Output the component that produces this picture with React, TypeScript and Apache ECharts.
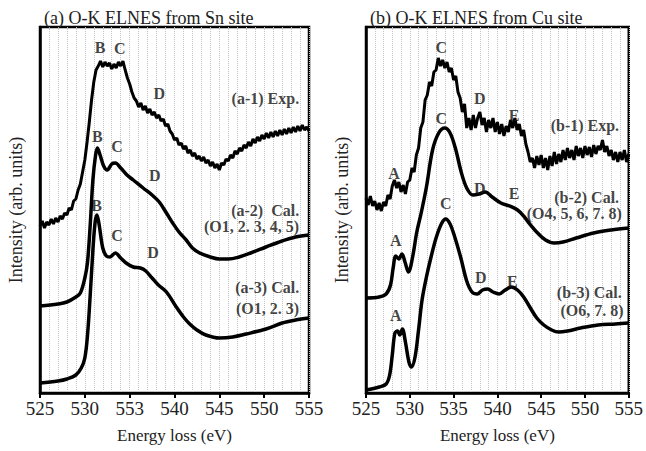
import React, { useEffect, useRef } from "react";
import * as echarts from "echarts";

// ---------- axis ----------
const X_MIN = 525;
const X_MAX = 555;
const TICKS_A = ["525", "530", "553", "540", "545", "550", "555"];
const TICKS_B = ["525", "530", "535", "540", "545", "550", "555"];

// ---------- experimental spectra (sampled every 0.25 eV from 525 eV) ----------
const EXP_START = 525;
const EXP_STEP = 0.25;
const expA1 = [
  167, 172, 165, 171, 168, 174, 169, 175, 171, 177, 174, 180, 178, 185, 183, 192, 194, 203, 209, 221,
  233, 251, 271, 293, 311, 323, 327, 332, 326, 331, 327, 330, 324, 329, 325, 331, 327, 332, 323, 315,
  309, 301, 295, 292, 286, 290, 283, 287, 280, 284, 278, 281, 275, 278, 272, 274, 267, 269, 262, 259,
  253, 255, 248, 250, 244, 247, 240, 243, 237, 240, 234, 237, 232, 236, 230, 233, 227, 231, 225, 229,
  223, 230, 228, 234, 232, 238, 235, 242, 239, 245, 242, 248, 245, 251, 247, 254, 250, 256, 252, 258,
  254, 260, 255, 261, 256, 262, 257, 263, 258, 264, 259, 265, 260, 266, 261, 267, 262, 268, 263, 266,
  262,
];
const expB1 = [
  195, 188, 197, 187, 192, 183, 190, 182, 191, 187, 198, 194, 207, 213, 205, 211, 201, 208, 199, 211,
  213, 225, 221, 238, 245, 265, 271, 293, 298, 311, 307, 321, 323, 335, 327, 333, 325, 331, 321, 325,
  313, 317, 301, 295, 281, 289, 265, 275, 263, 278, 265, 275, 281, 268, 275, 261, 273, 265, 275, 261,
  271, 259, 269, 257, 267, 261, 273, 265, 275, 263, 269, 257, 263, 249, 241, 231, 235, 225, 237, 228,
  238, 225, 235, 223, 237, 227, 241, 229, 239, 231, 243, 233, 245, 235, 243, 233, 247, 237, 245, 235,
  247, 238, 246, 236, 248, 239, 247, 243, 253, 241, 247, 237, 243, 233, 241, 231, 241, 233, 243, 231,
  239,
];

// ---------- calculated spectra ----------
const calA2E = [525, 527, 528, 529, 529.5, 530, 530.3, 530.6, 530.9, 531.2, 531.4, 531.7, 532.1, 532.5, 533, 533.4, 534, 534.7, 535.4, 536.5, 537.5, 538.3, 539.1, 539.8, 540.5, 541.3, 542, 542.8, 544, 545, 546, 547.2, 548.5, 550.2, 552, 553.5, 555];
const calA2I = [87, 89, 91, 96, 100, 115, 131, 168, 213, 238, 245, 238, 227, 223, 229, 230, 225, 218, 213, 205, 198, 191, 180, 170, 161, 153, 145, 140, 136, 134, 134, 136, 140, 146, 152, 156, 158];

const calA3E = [525, 527, 528, 529, 529.6, 530, 530.3, 530.6, 530.9, 531.15, 531.35, 531.6, 532, 532.4, 532.8, 533.4, 534, 534.6, 535.4, 536.2, 536.8, 537.5, 538.2, 539.1, 540.2, 541, 541.7, 542.5, 543.5, 545, 546.5, 548, 550.2, 552, 553.5, 555];
const calA3I = [10, 12, 14, 18, 25, 35, 58, 98, 143, 171, 178, 168, 145, 137, 136, 140, 135, 130, 126, 125, 122, 115, 108, 101, 86, 76, 69, 63, 58, 55, 56, 59, 64, 70, 73, 75];

const calB2E = [525, 526.5, 527.3, 527.8, 528.1, 528.4, 528.75, 529.1, 529.45, 529.85, 530.3, 530.8, 531.3, 531.9, 532.6, 533.3, 534, 534.6, 535.2, 535.9, 536.5, 537.2, 537.9, 538.6, 539.4, 540.4, 541.4, 542.3, 543, 543.7, 544.6, 545.5, 546.5, 547.5, 549, 551, 553, 555];
const calB2I = [95, 96, 99, 108, 125, 137, 134, 139, 131, 121, 135, 161, 180, 206, 243, 260, 265, 260, 245, 220, 205, 198, 199, 201, 196, 190, 187, 183, 177, 169, 160, 153, 150, 151, 155, 160, 163, 165];

const calB3E = [525, 526.5, 527.3, 527.7, 528, 528.3, 528.6, 528.85, 529.15, 529.5, 529.9, 530.2, 530.6, 531, 531.4, 531.9, 532.4, 533, 533.6, 534.1, 534.6, 535.1, 535.8, 536.5, 537.1, 537.7, 538.3, 538.9, 539.5, 540.2, 540.9, 541.6, 542.3, 543, 543.7, 544.5, 545.3, 546.2, 547, 548, 549.5, 551.5, 553.5, 555];
const calB3I = [3, 6, 9, 18, 38, 60, 62, 58, 64, 51, 31, 26, 36, 63, 93, 116, 135, 155, 169, 174, 169, 157, 136, 112, 101, 99, 103, 104, 101, 99, 103, 106, 103, 96, 86, 75, 68, 63, 61, 62, 65, 68, 69, 70];

// ---------- annotations: [text, energy, intensity, align] ----------
const notesA: [string, number, number, string][] = [
  ["B", 531.7, 346, "center"], ["C", 533.9, 345, "center"], ["D", 538.3, 300, "center"],
  ["(a-1) Exp.", 553.9, 295, "right"],
  ["B", 531.4, 257, "center"], ["C", 533.6, 247, "center"], ["D", 537.8, 218, "center"],
  ["(a-2)  Cal.", 553.9, 183, "right"], ["(O1, 2. 3, 4, 5)", 553.9, 167, "right"],
  ["B", 531.3, 188, "center"], ["C", 533.6, 158, "center"], ["D", 537.6, 141, "center"],
  ["(a-3) Cal.", 553.9, 106, "right"], ["(O1, 2. 3)", 553.9, 85, "right"],
];
const notesB: [string, number, number, string][] = [
  ["A", 528.2, 220, "center"], ["C", 533.6, 346, "center"], ["D", 538.0, 295, "center"], ["E", 541.9, 278, "center"],
  ["(b-1) Exp.", 553.9, 268, "right"],
  ["A", 528.4, 153, "center"], ["C", 533.6, 275, "center"], ["D", 538.0, 205, "center"], ["E", 541.9, 200, "center"],
  ["(b-2) Cal.", 553.9, 196, "right"], ["(O4, 5, 6, 7. 8)", 554.2, 180, "right"],
  ["C", 534.1, 190, "center"],
  ["A", 528.4, 78, "center"], ["D", 538.1, 116, "center"], ["E", 541.7, 112, "center"],
  ["(b-3) Cal.", 554.2, 101, "right"], ["(O6, 7. 8)", 554.4, 83, "right"],
];

const SERIF = "Liberation Serif";

function expPairs(vals: number[]) {
  return vals.map((v, i) => [EXP_START + i * EXP_STEP, v]);
}
function pairs(es: number[], is: number[]) {
  return es.map((e, i) => [e, is[i]]);
}

export default function App() {
  const ref = useRef<HTMLDivElement>(null);
  useEffect(() => {
    if (!ref.current) return;
    const chart = echarts.init(ref.current, null, { renderer: "svg" });

    const xAxisBase = (gridIndex: number, labels: string[]) => ({
      type: "value",
      gridIndex,
      min: X_MIN,
      max: X_MAX,
      interval: 5,
      name: "Energy loss (eV)",
      nameLocation: "middle",
      nameGap: 34,
      nameTextStyle: { fontFamily: SERIF, fontSize: 17, color: "#222" },
      axisLine: { show: true, onZero: false, lineStyle: { color: "#000", width: 2.5 } },
      axisTick: { show: true, length: 5, lineStyle: { color: "#000", width: 2 } },
      axisLabel: {
        fontFamily: SERIF,
        fontSize: 19,
        color: "#222",
        margin: 6,
        formatter: (v: number) => labels[Math.round((v - X_MIN) / 5)] ?? "",
      },
      splitLine: { show: true, lineStyle: { color: "#c4c4c4", type: "dotted", width: 1 } },
      minorTick: { show: false, splitNumber: 5 },
      minorSplitLine: { show: true, lineStyle: { color: "#c4c4c4", type: "dotted", width: 1 } },
    });
    const yAxisBase = (gridIndex: number) => ({
      type: "value",
      gridIndex,
      min: 0,
      max: 366,
      name: "Intensity (arb. units)",
      nameLocation: "middle",
      nameGap: 15,
      nameTextStyle: { fontFamily: SERIF, fontSize: 18, color: "#222" },
      axisLine: { show: true, lineStyle: { color: "#000", width: 2.5 } },
      axisTick: { show: false },
      axisLabel: { show: false },
      splitLine: { show: false },
    });

    const lineSeries = (data: number[][], idx: number, smooth: boolean, width: number) => ({
      type: "line",
      xAxisIndex: idx,
      yAxisIndex: idx,
      data,
      smooth: smooth ? 0.35 : false,
      showSymbol: false,
      symbol: "none",
      lineStyle: { color: "#000", width },
      z: 3,
    });
    const noteSeries = (notes: [string, number, number, string][], idx: number) => ({
      type: "scatter",
      xAxisIndex: idx,
      yAxisIndex: idx,
      symbolSize: 0,
      silent: true,
      z: 5,
      data: notes.map(([t, e, v, a]) => ({
        name: t,
        value: [e, v],
        label: {
          show: true,
          formatter: t,
          position: [0, 0],
          align: a,
          verticalAlign: "middle",
          fontFamily: SERIF,
          fontWeight: "bold",
          fontSize: 16,
          color: "#111",
        },
      })),
    });

    chart.setOption({
      animation: false,
      backgroundColor: "#fff",
      title: [
        { text: "(a) O-K ELNES from Sn site", left: 39, top: 4, textStyle: { fontFamily: SERIF, fontSize: 18, fontWeight: "normal", color: "#222" } },
        { text: "(b) O-K ELNES from Cu site", left: 365, top: 4, textStyle: { fontFamily: SERIF, fontSize: 18, fontWeight: "normal", color: "#222" } },
      ],
      grid: [
        { left: 40, top: 27, width: 269, height: 366, show: true, borderColor: "#000", borderWidth: 2.5, backgroundColor: "transparent" },
        { left: 366, top: 27, width: 270, height: 366, show: true, borderColor: "#000", borderWidth: 2.5, backgroundColor: "transparent" },
      ],
      xAxis: [xAxisBase(0, TICKS_A), xAxisBase(1, TICKS_B)],
      yAxis: [yAxisBase(0), yAxisBase(1)],
      series: [
        lineSeries(expPairs(expA1), 0, false, 3),
        lineSeries(pairs(calA2E, calA2I), 0, true, 3.5),
        lineSeries(pairs(calA3E, calA3I), 0, true, 3.5),
        lineSeries(expPairs(expB1), 1, false, 3),
        lineSeries(pairs(calB2E, calB2I), 1, true, 3.5),
        lineSeries(pairs(calB3E, calB3I), 1, true, 3.5),
        noteSeries(notesA, 0),
        noteSeries(notesB, 1),
      ],
    });
    return () => chart.dispose();
  }, []);
  return (
    <div
      ref={ref}
      style={{ position: "fixed", left: 0, top: 0, width: 646, height: 451, background: "#fff" }}
    />
  );
}
